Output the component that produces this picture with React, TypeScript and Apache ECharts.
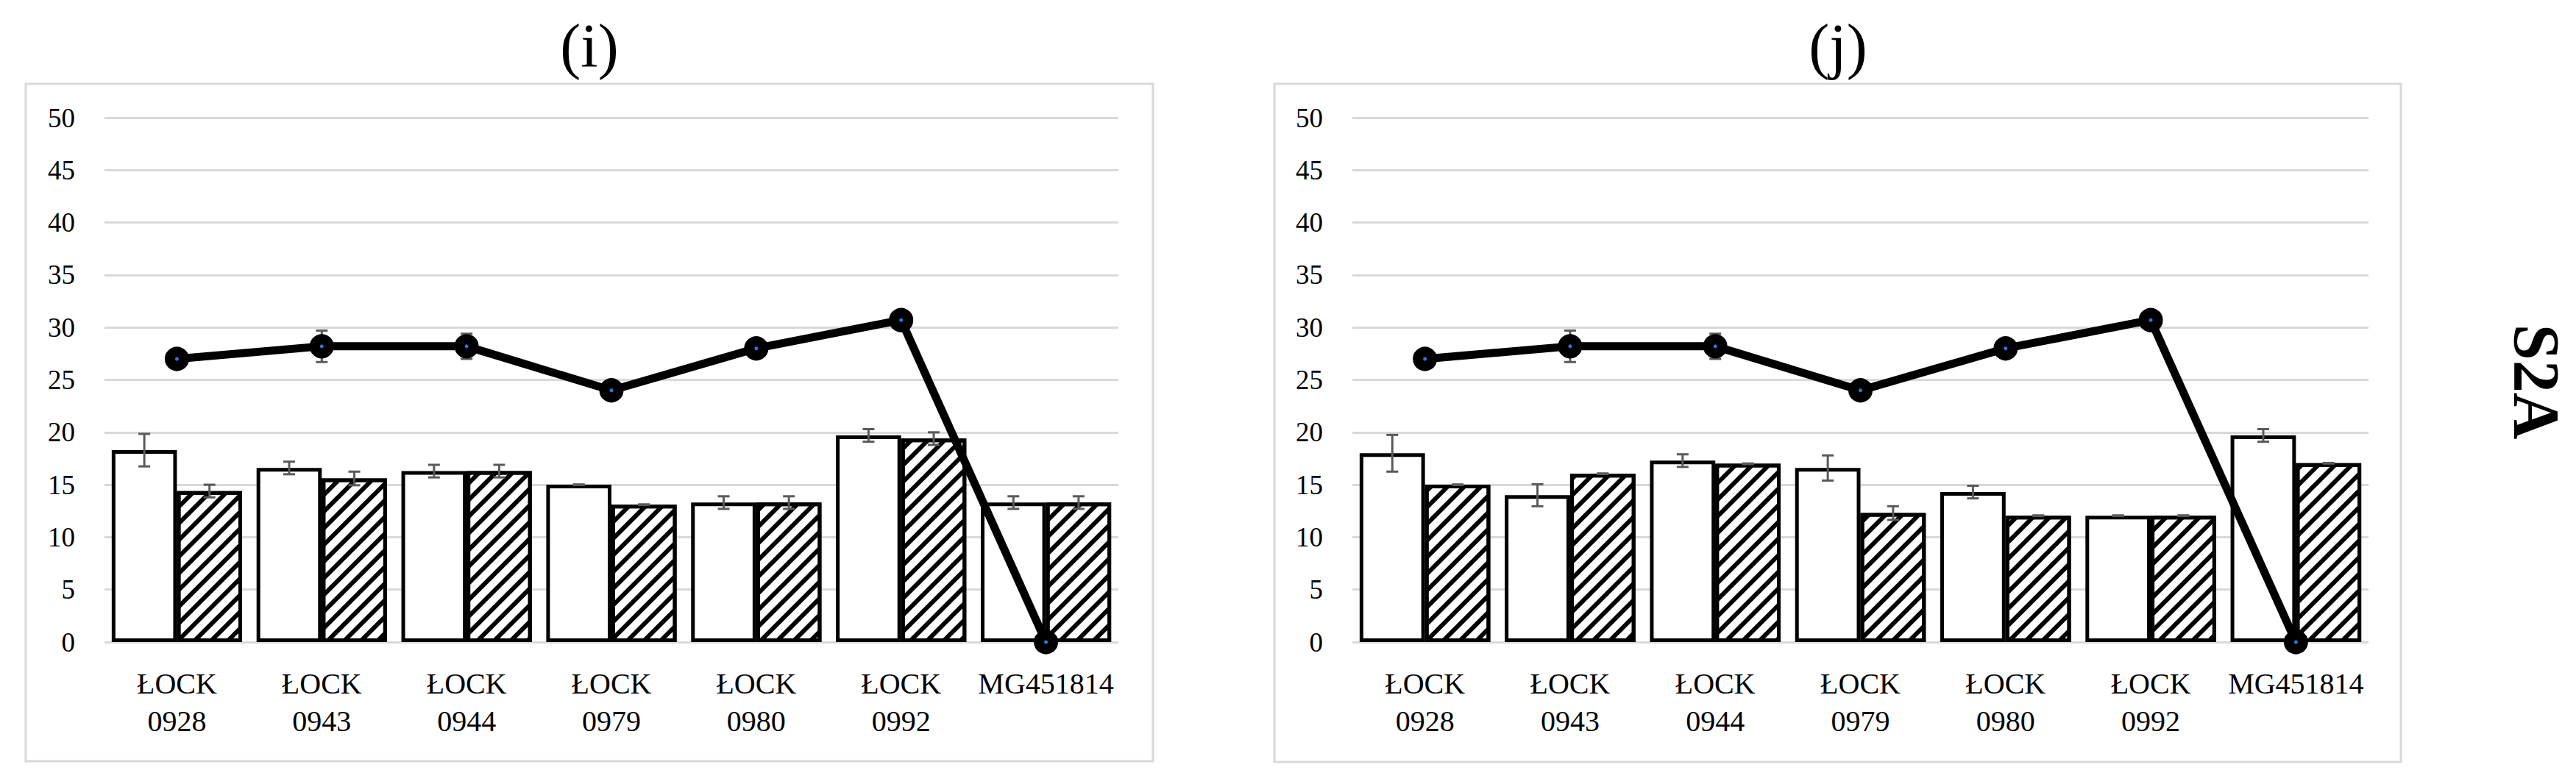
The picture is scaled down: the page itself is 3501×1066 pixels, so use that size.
import React, { useEffect, useRef } from "react";
import * as echarts from "echarts";

const categories = ["ŁOCK\n0928", "ŁOCK\n0943", "ŁOCK\n0944", "ŁOCK\n0979", "ŁOCK\n0980", "ŁOCK\n0992", "MG451814"];
const yTicks = { min: 0, max: 50, interval: 5 };
const panelTitles = ["(i)", "(j)"];
const sideLabel = "S2A";

// Panel (i)
const whiteI = [18.3, 16.6, 16.3, 15.0, 13.3, 19.7, 13.3];
const whiteErrI = [1.55, 0.6, 0.6, 0.03, 0.6, 0.6, 0.6];
const hatchI = [14.4, 15.6, 16.3, 13.1, 13.3, 19.4, 13.3];
const hatchErrI = [0.6, 0.65, 0.6, 0.03, 0.6, 0.6, 0.6];
const lineI = [27.0, 28.2, 28.2, 24.0, 28.0, 30.7, 0];
const lineErrI = [0, 1.5, 1.2, 0, 0, 0, 0];

// Panel (j)
const whiteJ = [18.0, 14.0, 17.3, 16.6, 14.3, 12.05, 19.7];
const whiteErrJ = [1.75, 1.05, 0.6, 1.2, 0.6, 0.03, 0.6];
const hatchJ = [15.0, 16.05, 17.0, 12.3, 12.05, 12.05, 17.05];
const hatchErrJ = [0.03, 0.03, 0.03, 0.65, 0.03, 0.03, 0.03];
const lineJ = [27.0, 28.2, 28.2, 24.0, 28.0, 30.7, 0];
const lineErrJ = [0, 1.5, 1.2, 0, 0, 0, 0];

const FONT = "Liberation Serif";

const errData = (vals: number[], errs: number[]) =>
  vals.map((v, i) => [i, v, errs[i]]).filter((d) => (d[2] as number) > 0);

const errRender = (offsetFactor: number) => (params: any, api: any) => {
  const i = api.value(0);
  const v = api.value(1);
  const e = api.value(2);
  const cw = api.size([1, 0])[0];
  const p1 = api.coord([i, v + e]);
  const p2 = api.coord([i, v - e]);
  const x = p1[0] + cw * offsetFactor;
  const half = 8;
  const style = { stroke: "#5a5a5a", lineWidth: 3 };
  return {
    type: "group",
    children: [
      { type: "line", shape: { x1: x, y1: p1[1], x2: x, y2: p2[1] }, style },
      { type: "line", shape: { x1: x - half, y1: p1[1], x2: x + half, y2: p1[1] }, style },
      { type: "line", shape: { x1: x - half, y1: p2[1], x2: x + half, y2: p2[1] }, style },
    ],
  };
};

const hatchDecal = {
  symbol: "rect",
  symbolSize: 1,
  symbolKeepAspect: false,
  color: "#000",
  backgroundColor: null,
  dashArrayX: [16, 0],
  dashArrayY: [6, 10],
  rotation: -Math.PI / 4,
};

function panelSeries(k: number, white: number[], wErr: number[], hatch: number[], hErr: number[], line: number[], lErr: number[]) {
  return [
    {
      type: "bar",
      xAxisIndex: k,
      yAxisIndex: k,
      data: white,
      barGap: "0%",
      barCategoryGap: "10%",
      itemStyle: { color: "#ffffff", borderColor: "#000", borderWidth: 5 },
      z: 2,
      silent: true,
    },
    {
      type: "bar",
      xAxisIndex: k,
      yAxisIndex: k,
      data: hatch,
      barGap: "0%",
      barCategoryGap: "10%",
      itemStyle: { color: "#ffffff", borderColor: "#000", borderWidth: 5, decal: hatchDecal },
      z: 2,
      silent: true,
    },
    {
      type: "custom",
      xAxisIndex: k,
      yAxisIndex: k,
      data: errData(white, wErr),
      renderItem: errRender(-0.225),
      encode: { x: 0, y: 1 },
      z: 3,
      silent: true,
    },
    {
      type: "custom",
      xAxisIndex: k,
      yAxisIndex: k,
      data: errData(hatch, hErr),
      renderItem: errRender(0.225),
      encode: { x: 0, y: 1 },
      z: 3,
      silent: true,
    },
    {
      type: "custom",
      xAxisIndex: k,
      yAxisIndex: k,
      data: errData(line, lErr),
      renderItem: errRender(0),
      encode: { x: 0, y: 1 },
      z: 3,
      silent: true,
    },
    {
      type: "line",
      xAxisIndex: k,
      yAxisIndex: k,
      data: line,
      symbol: "circle",
      symbolSize: 19,
      clip: false,
      lineStyle: { color: "#000", width: 11 },
      itemStyle: { color: "#2f78d8", borderColor: "#000", borderWidth: 14 },
      z: 4,
      silent: true,
    },
  ];
}

const grids = [
  { left: 142, top: 160, width: 1378, height: 713 },
  { left: 1838, top: 160, width: 1381, height: 713 },
];

export default function App() {
  const ref = useRef<HTMLDivElement>(null);
  useEffect(() => {
    if (!ref.current) return;
    const chart = echarts.init(ref.current, null, { renderer: "svg" });
    const xAxes = grids.map((_, k) => ({
      type: "category",
      gridIndex: k,
      data: categories,
      axisLine: { show: false },
      axisTick: { show: false },
      axisLabel: {
        interval: 0,
        fontFamily: FONT,
        fontSize: 40,
        lineHeight: 51,
        color: "#000",
        margin: 31,
      },
    }));
    const yAxes = grids.map((_, k) => ({
      type: "value",
      gridIndex: k,
      min: yTicks.min,
      max: yTicks.max,
      interval: yTicks.interval,
      axisLine: { show: false },
      axisTick: { show: false },
      axisLabel: { fontFamily: FONT, fontSize: 37, color: "#000", margin: 40 },
      splitLine: { lineStyle: { color: "#d9d9d9", width: 3 } },
    }));
    chart.setOption({
      animation: false,
      backgroundColor: "#ffffff",
      grid: grids.map((g) => ({ ...g, containLabel: false })),
      xAxis: xAxes,
      yAxis: yAxes,
      graphic: [
        { type: "rect", shape: { x: 35, y: 114, width: 1532, height: 921 }, style: { fill: "none", stroke: "#d9d9d9", lineWidth: 3 }, z: 0, silent: true },
        { type: "rect", shape: { x: 1732, y: 114, width: 1531, height: 922 }, style: { fill: "none", stroke: "#d9d9d9", lineWidth: 3 }, z: 0, silent: true },
        { type: "text", x: 801, y: 62, style: { text: panelTitles[0], font: `84px ${FONT}`, fill: "#000", align: "center", verticalAlign: "middle" }, silent: true },
        { type: "text", x: 2498, y: 62, style: { text: panelTitles[1], font: `84px ${FONT}`, fill: "#000", align: "center", verticalAlign: "middle" }, silent: true },
        { type: "text", x: 3447, y: 519, rotation: -Math.PI / 2, style: { text: sideLabel, font: `bold 88px ${FONT}`, fill: "#000", align: "center", verticalAlign: "middle" }, silent: true },
      ],
      series: [
        ...panelSeries(0, whiteI, whiteErrI, hatchI, hatchErrI, lineI, lineErrI),
        ...panelSeries(1, whiteJ, whiteErrJ, hatchJ, hatchErrJ, lineJ, lineErrJ),
      ],
    });
    return () => chart.dispose();
  }, []);
  return <div ref={ref} style={{ position: "absolute", left: 0, top: 0, width: 3501, height: 1066, background: "#fff" }} />;
}
